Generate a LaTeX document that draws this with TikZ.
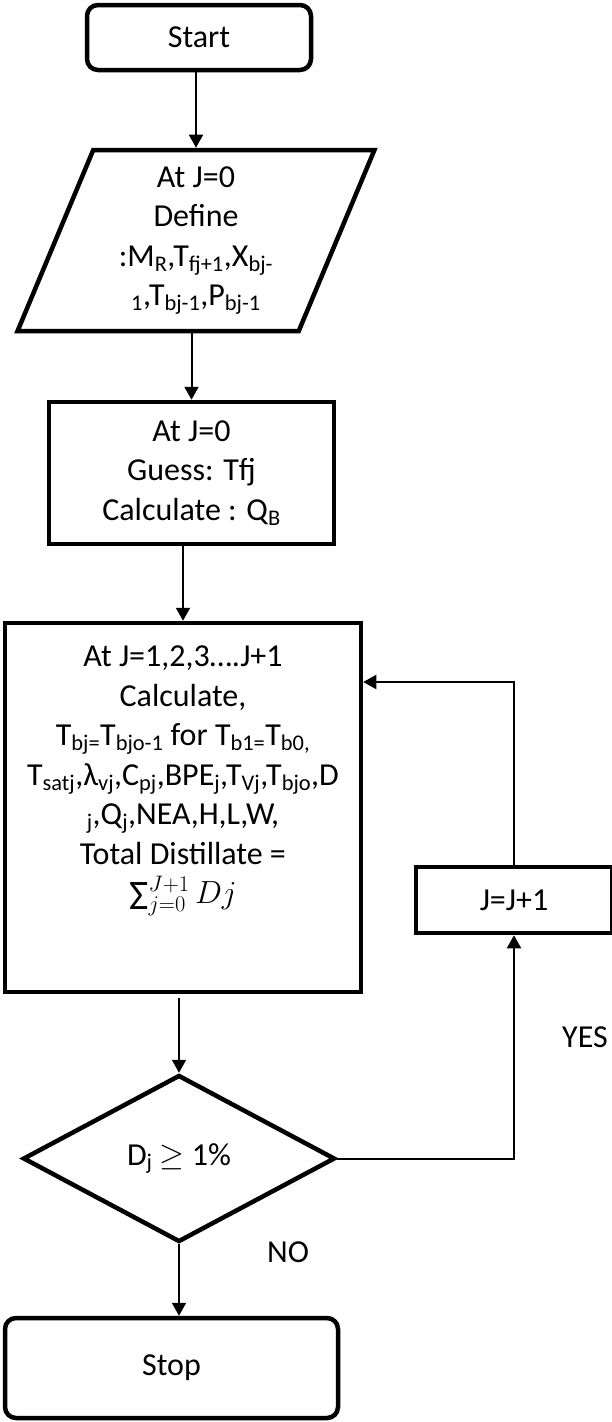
\documentclass[tikz,border=0pt]{standalone}
\usepackage{fix-cm}
\usepackage{fontspec}
\setmainfont{Carlito}
\usetikzlibrary{arrows.meta,shapes.geometric}

\begin{document}
\begin{tikzpicture}[x=1pt,y=-1pt,->,>={Triangle[length=13pt,width=14pt]},
                    line width=2pt,font=\fontsize{32}{39.5}\selectfont]

  \tikzstyle{every node}=[align=center,inner sep=0pt]
  \tikzstyle{box}=[rectangle,draw,line width=4.5pt]
  \tikzstyle{terminal}=[box,rounded corners=11pt]
  \tikzstyle{io}=[trapezium,trapezium left angle=69,trapezium right angle=111,
                  trapezium stretches=true,draw,line width=4.5pt]
  \tikzstyle{test}=[diamond,aspect=1.87,draw,line width=4.5pt]

  \useasboundingbox (0,0) rectangle (612,1422);

  \node[terminal,minimum width=224pt,minimum height=65pt] (START) at (199,37.5) {Start};
  \node[io,minimum width=358pt,minimum height=181pt]      (IO)    at (196,240.5)
       {At J=0 \\ Define \\
        :M\textsubscript{R},T\textsubscript{fj+1},X\textsubscript{bj-} \\
        \textsubscript{1},T\textsubscript{bj-1},P\textsubscript{bj-1}};
  \node[box,minimum width=285pt,minimum height=142pt]     (INIT)  at (191.5,473)
       {At J=0 \\ Guess: Tfj \\ Calculate : Q\textsubscript{B}};

  \node[box,minimum width=356pt,minimum height=369pt]     (CALC)  at (183,807.5) {};
  \node[anchor=north]                                     (CALCTXT) at (183,645)
       {At J=1,2,3….J+1 \\ Calculate, \\
        T\textsubscript{bj=}T\textsubscript{bjo-1} for T\textsubscript{b1=}T\textsubscript{b0,} \\
        T\textsubscript{satj},λ\textsubscript{vj},C\textsubscript{pj},BPE\textsubscript{j},T\textsubscript{Vj},T\textsubscript{bjo},D \\
        \textsubscript{j},Q\textsubscript{j},NEA,H,L,W, \\
        Total Distillate = \\
        $\mathop{\raisebox{-6pt}{\fontsize{42}{42}\selectfont Σ}}\nolimits_{j=0}^{J+1} Dj$};
  \node[box,minimum width=196pt,minimum height=66pt]      (INCR)  at (514,900) {J=J+1};

  \node[test,minimum width=312pt,minimum height=167pt]    (TEST)  at (179,1158.5)
       {D\textsubscript{j} $\geq$ 1\%};
  \node[terminal,minimum width=333pt,minimum height=100pt] (STOP) at (171.5,1368) {Stop};

  \node (YES) at (585,1037) {YES};
  \node (NO)  at (288,1252) {NO};

  \coordinate (LOOPIN) at (CALC.east |- 0,682);

  \path
  (START.south -| IO) edge (IO.north -| IO)
  (IO.south -| INIT)  edge (INIT.north)
  (INIT.south -| CALC) edge (CALC.north)
  (CALC.south -| TEST) edge [shorten <=4pt] (TEST.north)
  (TEST.south)        edge (STOP.north -| TEST)
  ;

  \draw (TEST.east) -| (INCR.south);
  \draw (INCR.north) |- (LOOPIN);
\end{tikzpicture}
\end{document}
